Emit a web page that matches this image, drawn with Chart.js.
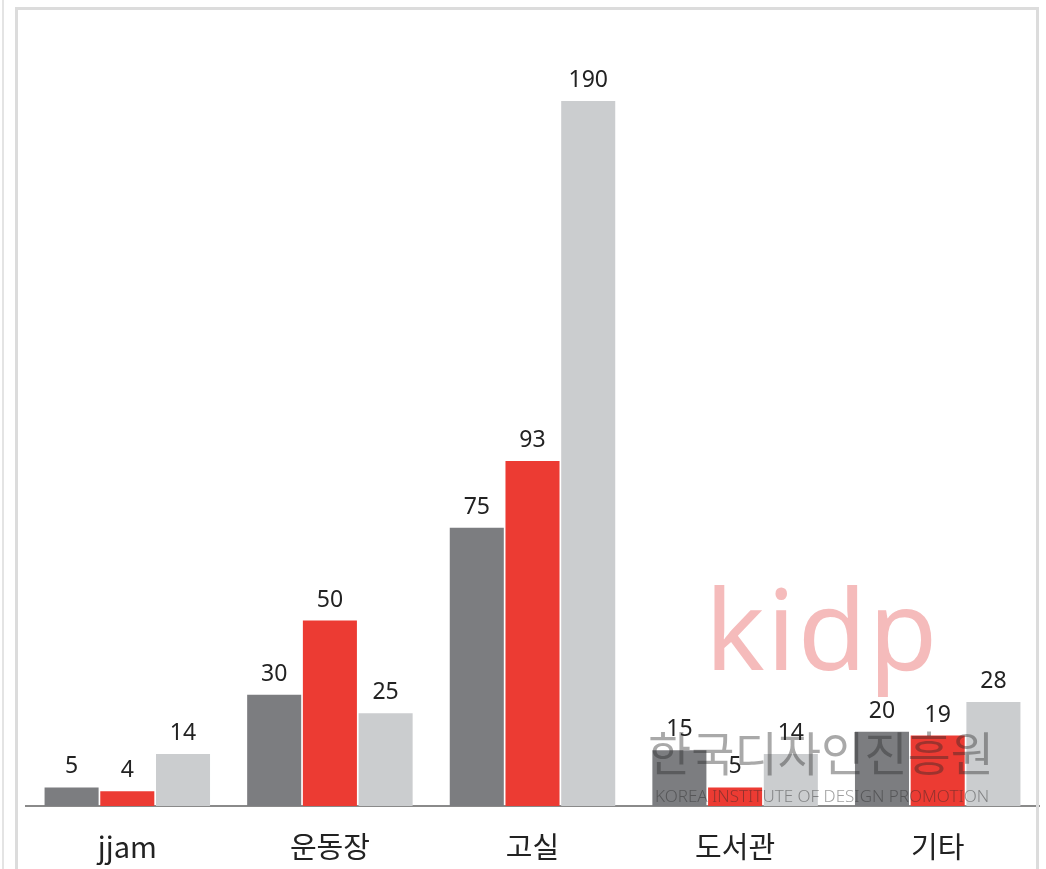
<!DOCTYPE html>
<html>
<head>
<meta charset="utf-8">
<script src="https://cdn.jsdelivr.net/npm/chart.js@4"></script>
<style>
  html, body { margin: 0; padding: 0; background: #fff; }
  #wrap { position: relative; width: 1046px; height: 869px; overflow: hidden; }
  #frame { position: absolute; left: 15px; top: 7px; width: 1018px; height: 880px;
           border: 3px solid #dcdcdc; border-bottom: none; }
  #edge { position: absolute; left: 2px; top: 0; width: 2px; height: 869px; background: #e4e4e4; }
  .mark { position: absolute; white-space: nowrap; pointer-events: none; }
  #kidp { left: 705px; top: 550px; font: 400 112px "Noto Sans", sans-serif; color: rgba(236,120,120,0.5); letter-spacing: 2px; }
  #kor { left: 648px; top: 716px; font: 400 47px "Noto Sans CJK KR", sans-serif; color: rgba(40,40,40,0.4); letter-spacing: 0px; }
  #eng { left: 655px; top: 784px; font: 300 17px "Noto Sans", sans-serif; color: rgba(40,40,40,0.45); }
</style>
</head>
<body>
<div id="wrap">
  <canvas id="chart" width="1046" height="869"></canvas>
  <div id="edge"></div>
  <div id="frame"></div>
  <div class="mark" id="kidp">kidp</div>
  <div class="mark" id="kor">한국디자인진흥원</div>
  <div class="mark" id="eng">KOREA INSTITUTE OF DESIGN PROMOTION</div>
</div>
<script>
// categories and series values
const categories = ["jjam", "운동장", "고실", "도서관", "기타"];
const seriesA = [5, 30, 75, 15, 20];
const seriesB = [4, 50, 93, 5, 19];
const seriesC = [14, 25, 190, 14, 28];

const colors = ["#7c7d80", "#ec3b33", "#cbcdcf"];

// value labels above each bar
const valueLabels = {
  id: "valueLabels",
  afterDatasetsDraw(chart) {
    const ctx = chart.ctx;
    ctx.save();
    ctx.font = "23px 'Noto Sans', sans-serif";
    ctx.fillStyle = "#222";
    ctx.textAlign = "center";
    ctx.textBaseline = "bottom";
    chart.data.datasets.forEach((ds, i) => {
      chart.getDatasetMeta(i).data.forEach((bar, j) => {
        ctx.fillText(String(ds.data[j]), bar.x, bar.y - 9);
      });
    });
    ctx.restore();
  }
};

new Chart(document.getElementById("chart").getContext("2d"), {
  type: "bar",
  data: {
    labels: categories,
    datasets: [
      { data: seriesA, backgroundColor: colors[0] },
      { data: seriesB, backgroundColor: colors[1] },
      { data: seriesC, backgroundColor: colors[2] }
    ]
  },
  options: {
    responsive: false,
    animation: false,
    layout: { padding: { left: 26, right: 7, top: 64, bottom: 0 } },
    plugins: { legend: { display: false }, tooltip: { enabled: false } },
    datasets: { bar: { categoryPercentage: 0.825, barPercentage: 0.97 } },
    scales: {
      x: {
        afterFit(scale) { scale.height = 63; },
        grid: { display: false, drawTicks: false },
        border: { display: true, color: "#8a8a8a", width: 2 },
        ticks: {
          color: "#222",
          padding: 24,
          font: { size: 29, family: "'Noto Sans CJK KR', 'Noto Sans', sans-serif" }
        }
      },
      y: { display: false, min: 0, max: 200 }
    }
  },
  plugins: [valueLabels]
});
</script>
</body>
</html>
